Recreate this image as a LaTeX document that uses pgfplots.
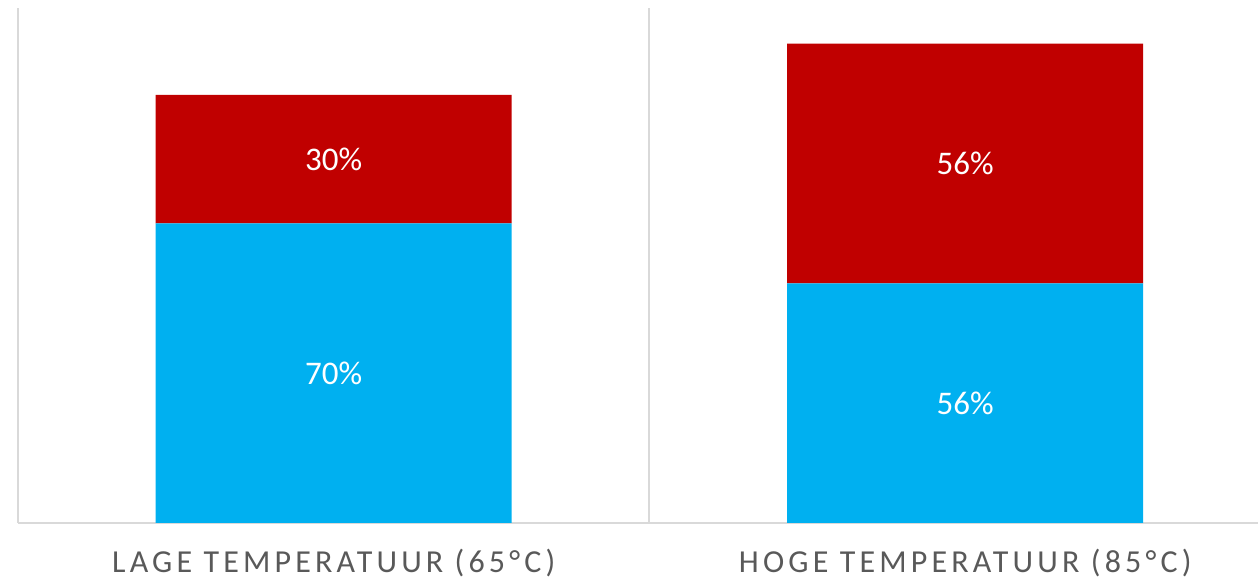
\documentclass[border=0pt]{standalone}
\usepackage{pgfplots}
\pgfplotsset{compat=1.18}
\usepackage{pgfplotstable}
\usepackage{fontspec}
\setmainfont{Carlito}
\newfontfamily\catfont[LetterSpace=13]{Carlito}
\definecolor{barblue}{HTML}{00B0F0}
\definecolor{barred}{HTML}{C00000}
\definecolor{axisgray}{HTML}{D9D9D9}
\definecolor{labelgray}{HTML}{595959}

% share per temperature: lower (blue) and upper (red) segment
\pgfplotstableread{
x low high
0 70 30
1 56 56
}\shares

\begin{document}
\begin{tikzpicture}
\path[use as bounding box] (-18pt,-55pt) rectangle (1240pt,523pt);
\begin{axis}[
  at={(0,0)}, anchor=south west,
  scale only axis, width=1240pt, height=515pt,
  ybar stacked, bar width=356pt, bar shift=0pt,
  xmin=-0.5, xmax=1.4636, ymin=0, ymax=120.3,
  axis lines*=left,
  axis line style={-, axisgray, line width=2pt},
  x axis line style={-}, y axis line style={-},
  ytick=\empty,
  xtick={0,1},
  xticklabels={{LAGE TEMPERATUUR (65°C)},{HOGE TEMPERATUUR (85°C)}},
  major tick length=0pt,
  xticklabel style={font=\catfont\fontsize{32}{38}\selectfont, text=labelgray, anchor=base, yshift=-49pt},
  extra x ticks={0.5},
  extra x tick labels={},
  extra x tick style={grid=major, major grid style={axisgray, line width=2pt}},
  /pgf/number format/assume math mode=true,
  nodes near coords={\pgfmathprintnumber{\pgfplotspointmeta}\%},
  point meta=explicit,
  nodes near coords align={center},
  every node near coord/.append style={font=\fontsize{33}{40}\selectfont, text=white, anchor=center},
  clip=false,
]
\addplot[fill=barblue, draw=none] table[x=x, y=low, meta=low] {\shares};
\addplot[fill=barred, draw=none] table[x=x, y=high, meta=high] {\shares};
\end{axis}
\end{tikzpicture}
\end{document}
